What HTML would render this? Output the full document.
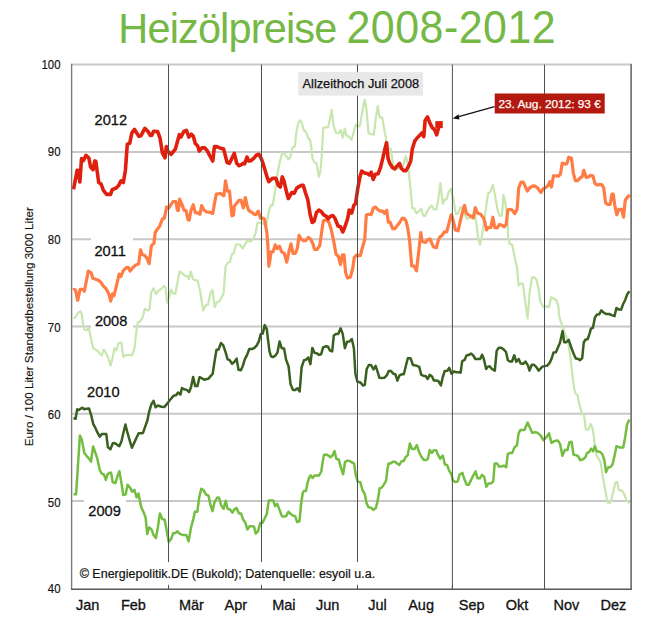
<!DOCTYPE html>
<html><head><meta charset="utf-8"><style>
html,body{margin:0;padding:0;background:#fff;}
body{width:650px;height:628px;overflow:hidden;position:relative;font-family:"Liberation Sans",sans-serif;}
svg{position:absolute;left:0;top:0;}
</style></head><body>
<svg width="650" height="628" viewBox="0 0 650 628" font-family="Liberation Sans, sans-serif">
<text transform="translate(118.3,43.1) scale(1,1.046)" font-size="41.5" letter-spacing="-0.85" fill="#75B845">Heizölpreise</text><text transform="translate(346.5,42.7) scale(1,1.077)" font-size="43" letter-spacing="0.45" fill="#75B845">2008-2012</text>
<g stroke="#c8c8c8" stroke-width="2"><line x1="71.5" y1="64.6" x2="630.5" y2="64.6" /><line x1="71.5" y1="151.9" x2="630.5" y2="151.9" /><line x1="71.5" y1="239.2" x2="630.5" y2="239.2" /><line x1="71.5" y1="326.5" x2="630.5" y2="326.5" /><line x1="71.5" y1="413.8" x2="630.5" y2="413.8" /><line x1="71.5" y1="501.1" x2="630.5" y2="501.1" /></g>
<g fill="none" stroke-linejoin="round" stroke-linecap="butt">
<polyline points="73.5,318.6 75.6,317.0 78.0,313.0 80.4,311.4 81.9,314.6 83.5,327.3 84.6,329.7 86.7,330.2 88.8,328.1 90.7,336.9 93.1,348.0 95.5,349.6 97.9,351.2 100.3,354.4 101.8,355.2 103.8,349.6 105.8,352.8 108.2,357.6 110.6,365.5 112.2,359.2 114.6,348.0 116.2,350.4 118.6,343.2 121.3,342.5 123.3,356.8 125.7,355.2 128.1,355.2 132.1,355.2 134.5,348.0 136.1,333.7 137.7,322.5 140.1,321.3 142.5,317.8 144.8,309.0 148.0,310.6 149.6,309.0 151.2,292.3 153.6,288.3 156.0,294.2 158.4,290.7 161.1,289.1 163.9,285.9 165.5,287.5 167.1,302.6 169.5,295.5 171.1,289.5 173.0,293.4 175.4,293.8 176.9,285.5 179.6,271.5 182.5,273.5 184.9,275.9 187.3,275.9 188.9,279.1 190.8,271.5 192.9,279.1 195.3,280.4 197.6,280.7 200.0,290.3 203.2,310.6 205.6,305.4 208.0,304.6 210.4,293.4 212.5,289.9 214.7,307.0 216.8,302.2 219.1,301.7 221.5,297.4 223.6,293.4 225.5,266.8 227.9,262.5 230.0,262.0 231.9,254.0 233.8,253.2 235.9,244.5 239.8,244.5 242.7,248.5 244.6,245.3 247.0,240.8 251.0,241.3 253.4,238.9 255.8,232.5 257.4,223.0 258.9,222.7 260.5,222.7 266.4,224.4 268.8,211.7 270.8,205.3 272.7,205.3 275.2,190.0 277.1,176.0 279.5,163.2 282.2,152.9 284.3,153.7 286.7,156.9 288.6,159.3 290.6,156.1 292.7,147.3 294.9,146.5 296.2,133.0 297.8,125.0 299.7,120.3 301.8,122.6 303.9,130.6 305.8,131.7 308.2,137.8 310.2,140.2 311.3,147.3 312.5,158.5 314.5,162.5 316.6,163.2 318.8,176.8 320.4,171.2 321.7,156.9 323.3,127.9 325.7,127.4 328.1,126.9 330.0,118.7 331.7,109.9 333.6,125.8 336.0,133.0 338.4,133.3 340.8,129.8 342.7,137.8 344.8,128.5 346.4,135.4 348.8,136.5 351.6,139.7 353.5,133.0 355.9,124.7 356.6,126.1 359.8,126.1 362.2,112.5 364.6,99.8 366.5,109.3 368.5,133.2 370.9,134.0 373.8,134.8 375.7,118.9 377.8,106.1 379.7,117.3 382.1,117.3 383.7,126.1 386.1,139.6 388.4,147.5 390.8,149.1 393.2,165.1 394.8,167.7 397.2,168.7 400.1,168.2 402.9,166.8 405.8,156.3 407.7,162.9 408.7,170.6 409.6,180.2 410.6,189.7 412.2,207.9 414.1,208.3 416.5,213.4 418.9,211.1 421.3,209.0 423.3,215.8 425.2,215.8 427.6,210.3 430.0,207.1 431.6,205.5 434.0,209.5 436.4,209.5 438.8,195.9 440.4,183.2 442.8,203.9 444.4,199.9 446.7,199.1 448.3,192.7 450.7,188.8 453.4,198.9 455.8,214.0 457.8,213.6 460.5,207.2 462.9,208.5 464.8,214.8 466.9,218.8 469.3,218.0 472.5,216.4 474.9,213.2 476.5,224.4 478.1,237.9 479.9,244.7 481.9,235.9 485.2,213.2 488.1,193.3 490.0,192.5 492.9,184.9 494.8,194.1 497.6,210.1 499.5,215.6 501.9,215.6 503.5,194.9 505.1,201.3 507.2,216.4 508.2,237.5 509.8,243.9 512.2,244.7 514.6,256.6 517.0,267.8 518.6,285.3 520.6,283.7 522.9,283.7 524.9,299.6 527.6,318.7 529.7,291.7 532.1,277.3 534.5,277.3 536.6,280.2 538.8,290.1 540.4,302.0 543.2,306.8 546.4,306.3 548.8,307.3 551.2,297.2 553.6,298.8 556.0,299.6 558.4,306.0 559.1,315.9 560.7,321.5 563.1,327.9 564.7,333.4 566.3,337.4 567.9,339.8 569.5,351.0 571.1,363.7 572.6,376.4 574.2,389.2 575.8,393.9 577.9,395.5 578.3,400.0 580.8,409.6 582.1,414.3 584.0,414.9 585.9,429.6 588.4,429.6 590.7,423.9 592.6,428.7 594.1,438.2 594.9,446.8 596.4,455.4 598.3,458.3 600.6,462.1 602.5,474.5 604.5,486.0 606.9,499.4 608.3,503.2 610.8,502.2 613.2,491.7 615.5,482.5 617.1,481.8 619.0,490.2 622.2,490.8 624.1,494.0 626.6,500.3 629.3,503.2" stroke="#C8E6AF" stroke-width="2.2"/>
<polyline points="73.5,494.3 76.1,494.3 78.0,464.8 79.9,435.4 81.9,440.1 84.3,452.9 86.7,456.1 88.8,458.4 91.0,461.6 93.1,446.5 95.2,452.1 97.4,459.2 99.9,470.4 101.8,473.6 103.8,474.4 105.8,479.9 107.4,474.4 109.5,472.8 111.1,472.8 112.7,482.3 115.4,483.1 117.5,476.0 119.4,471.2 121.3,482.3 123.3,495.1 125.7,494.3 127.6,484.7 130.2,487.9 132.1,491.6 134.5,490.0 136.6,497.5 138.5,493.5 139.7,499.8 141.3,507.5 143.6,512.3 145.6,517.4 147.2,534.1 149.2,527.5 151.5,529.4 153.5,534.9 155.9,538.1 157.8,527.8 159.9,513.4 162.3,519.0 164.7,519.8 166.8,531.0 168.7,542.1 171.1,538.9 173.1,533.3 175.4,532.9 177.4,531.3 179.8,533.8 182.7,534.9 186.2,534.9 188.6,541.3 191.0,527.8 193.3,519.0 194.9,511.8 197.3,511.8 199.2,497.5 201.3,488.8 203.7,490.4 206.1,494.6 208.5,495.6 210.4,504.7 212.5,511.1 214.5,502.3 217.2,497.5 219.1,497.8 221.2,505.5 223.6,508.7 225.7,500.7 227.6,508.7 230.0,509.5 232.4,512.6 234.3,509.5 236.3,507.9 239.0,513.4 241.1,513.6 243.0,519.3 245.4,522.8 247.4,529.5 249.6,526.3 252.2,526.3 254.1,526.8 255.7,533.6 258.1,531.1 260.2,523.1 262.4,522.8 264.5,518.8 266.8,514.0 268.8,500.5 271.3,500.5 273.2,500.5 275.1,506.1 277.2,503.7 279.6,510.1 282.0,516.4 284.4,516.4 286.3,516.1 288.3,511.7 290.7,514.0 293.1,515.6 295.2,516.1 297.1,522.0 299.5,521.2 301.1,503.7 302.7,493.3 303.8,491.0 305.9,491.0 307.5,483.0 309.0,478.2 310.6,475.4 312.7,477.9 314.6,475.4 317.0,475.4 319.1,475.4 321.3,471.5 322.6,462.3 323.9,455.1 326.6,454.6 328.9,455.9 330.5,457.2 332.5,455.6 334.5,451.1 336.4,459.0 338.8,459.5 340.8,467.4 343.1,474.3 345.1,461.8 347.5,460.6 349.9,461.1 352.3,462.6 354.2,463.8 355.8,475.4 357.9,481.8 360.3,482.2 362.6,490.5 364.7,493.7 366.6,503.2 368.5,507.2 371.1,507.7 373.3,509.9 375.9,508.0 377.8,500.1 379.7,488.1 381.8,487.6 384.1,484.1 386.1,480.6 387.6,468.2 388.6,463.4 390.5,463.4 392.9,461.8 395.0,461.8 397.2,463.4 399.3,465.0 401.3,461.5 403.6,461.1 405.6,457.1 407.7,455.2 409.9,443.5 412.0,449.1 414.4,449.1 416.8,445.1 419.2,452.3 421.6,457.1 423.9,459.9 426.3,459.9 427.9,458.7 429.7,449.9 431.7,452.9 433.8,450.2 436.1,450.2 438.1,454.9 440.1,458.6 442.8,455.7 444.9,464.5 447.3,465.3 449.2,470.9 451.3,474.0 452.9,480.4 455.3,482.0 457.6,481.5 459.7,474.5 462.4,472.9 464.5,479.6 466.7,484.7 468.8,484.7 471.2,479.6 473.6,474.8 475.6,471.3 477.5,478.3 479.9,478.3 482.0,474.8 484.2,476.8 486.3,486.8 488.4,483.6 490.6,483.6 493.2,481.5 494.7,463.4 497.0,463.4 499.0,466.6 501.4,466.6 503.8,465.6 506.2,467.2 507.8,453.8 510.2,452.9 512.3,452.9 513.9,448.6 515.4,446.5 517.0,445.4 518.6,433.4 520.5,429.9 524.5,429.9 527.6,422.5 529.9,427.7 532.4,432.9 535.3,432.1 537.6,432.9 540.6,435.4 543.3,440.1 546.4,437.3 549.0,433.4 551.5,443.0 554.4,441.1 557.8,440.5 560.1,443.9 562.4,455.8 564.9,450.1 567.4,450.1 569.3,442.4 571.6,441.7 573.5,454.5 576.4,455.4 578.3,456.4 580.2,460.2 583.1,459.2 585.4,457.3 586.9,453.1 589.2,452.0 591.1,448.7 593.0,451.2 594.9,446.2 596.8,451.2 600.3,452.0 602.5,454.5 604.5,460.8 606.0,472.2 608.3,467.3 610.8,466.9 612.7,464.0 614.6,455.4 616.5,446.2 619.4,447.4 623.2,447.4 625.1,437.8 627.0,424.8 629.3,419.5" stroke="#73BE41" stroke-width="2.5"/>
<polyline points="73.5,418.0 75.6,418.8 77.2,409.3 78.8,410.1 80.4,408.8 82.4,407.7 84.3,409.3 86.7,408.8 89.1,408.5 91.5,416.4 93.1,423.6 95.2,427.6 97.4,432.4 99.7,436.6 101.8,434.1 104.2,434.1 106.3,434.1 107.9,447.3 110.4,449.2 112.8,443.2 114.7,443.0 117.2,444.8 119.4,446.1 121.5,441.2 123.3,433.2 125.4,424.5 127.6,433.2 130.1,441.8 131.9,447.7 134.4,442.4 136.6,437.5 138.7,433.2 141.2,433.2 143.0,432.9 144.8,427.6 147.3,420.8 149.2,411.6 151.4,404.2 153.5,400.9 155.6,407.3 157.8,405.5 161.5,406.7 164.5,406.9 167.0,403.9 169.5,400.5 171.9,397.7 173.8,395.6 176.1,395.2 178.0,392.5 180.4,394.7 181.9,388.0 184.3,389.3 186.7,389.9 189.1,392.0 191.0,387.2 193.1,376.9 195.2,386.1 197.4,386.1 199.5,377.2 201.8,378.2 204.2,379.7 205.8,379.3 208.2,378.8 210.6,376.1 212.7,373.7 214.6,361.0 216.5,349.8 218.6,349.5 221.0,343.0 223.3,345.4 225.7,352.7 227.6,359.4 229.7,360.2 232.1,363.8 234.5,361.8 236.6,358.6 238.5,369.7 240.9,370.2 242.9,365.7 244.8,359.4 247.2,354.6 249.3,349.0 252.0,349.0 254.4,347.9 256.8,345.4 258.9,341.1 260.8,333.9 262.7,333.6 264.7,325.1 266.8,329.1 267.9,338.7 269.5,351.4 271.1,356.5 273.3,357.0 275.4,355.4 277.4,352.7 279.6,341.5 281.7,348.2 284.1,348.5 286.0,359.4 288.6,366.5 290.5,384.0 292.9,389.9 295.3,389.9 297.6,388.3 299.7,391.5 301.6,367.3 304.0,360.2 306.1,359.7 308.3,357.5 310.4,364.1 312.3,347.9 314.7,353.0 316.8,353.3 319.1,354.9 321.1,354.3 323.1,347.4 325.5,346.3 327.9,346.6 330.0,350.6 332.2,351.4 333.8,335.5 335.9,333.9 338.2,333.9 340.6,328.3 342.7,333.9 344.9,348.2 347.0,341.8 349.4,341.5 351.8,339.0 353.9,348.2 355.4,373.7 357.4,381.7 360.5,382.5 362.9,385.6 364.8,384.9 366.7,369.0 368.8,365.0 371.1,365.0 373.5,369.5 375.6,365.8 377.5,371.4 379.4,377.8 382.0,378.1 384.2,377.8 386.8,375.4 388.7,371.1 391.1,371.1 393.4,373.8 395.4,374.3 397.4,380.6 399.5,375.4 401.7,374.3 403.8,374.3 405.9,365.8 407.8,358.3 410.6,358.3 412.9,365.0 415.7,365.4 419.2,366.9 421.3,374.9 423.7,375.9 425.6,375.9 427.7,379.0 429.7,374.9 432.0,376.5 434.0,380.6 436.1,380.6 438.3,381.0 440.9,385.4 442.8,377.0 444.7,371.1 447.3,370.8 449.2,367.9 451.6,373.8 453.9,371.4 456.3,372.2 459.5,372.2 460.6,372.7 462.2,361.1 464.6,359.9 466.5,355.5 469.3,354.7 471.2,353.6 473.3,355.5 475.4,359.0 478.1,359.0 480.2,359.0 482.1,354.7 484.0,359.5 486.1,369.0 487.6,366.9 489.7,366.3 491.9,369.0 494.8,370.6 496.7,350.7 498.8,347.8 501.2,347.8 503.6,349.4 506.0,352.0 507.9,360.3 509.9,361.5 512.0,361.5 514.2,355.2 516.3,361.8 518.7,359.0 520.6,363.4 523.2,363.8 525.4,361.5 527.9,365.4 529.5,370.6 531.8,364.7 533.8,364.7 536.2,366.9 538.6,370.6 542.4,366.6 544.8,366.1 547.2,365.6 549.6,362.9 551.5,358.9 553.5,352.5 555.9,352.2 557.8,347.8 559.9,343.0 561.0,338.2 562.6,331.1 564.2,342.2 566.3,342.2 568.7,339.8 571.1,347.0 573.4,353.3 575.8,358.6 578.2,358.9 580.1,360.2 582.2,358.1 583.8,342.2 585.4,339.8 587.8,339.0 589.4,334.2 591.0,328.7 592.9,327.9 594.9,317.5 597.0,314.6 599.2,314.3 601.3,310.4 603.7,312.7 606.1,314.0 609.3,314.0 611.7,315.1 614.5,316.2 616.4,308.0 618.8,309.6 621.2,309.6 622.8,304.8 625.2,300.0 627.3,294.1 629.5,291.3" stroke="#3A6020" stroke-width="2.5"/>
<polyline points="73.5,289.9 74.0,289.3 75.5,290.2 77.7,300.3 80.1,289.3 82.8,289.3 84.3,291.2 86.5,280.2 88.3,271.0 91.1,272.8 92.9,278.3 95.6,279.2 98.4,280.2 101.1,282.5 103.0,285.7 105.7,288.4 107.5,291.2 109.4,295.7 110.7,301.2 112.5,293.9 114.0,295.7 116.7,284.7 119.1,274.1 120.9,276.5 123.1,271.0 125.9,267.9 128.2,267.3 130.1,271.0 133.2,267.3 135.6,265.1 138.7,263.7 140.5,249.9 142.3,254.5 144.7,255.4 146.9,258.2 149.1,263.7 151.5,245.4 153.9,243.5 155.2,232.5 157.0,229.8 159.7,226.1 162.5,218.8 164.3,218.4 166.7,206.9 168.9,207.8 173.0,201.5 175.8,201.5 177.4,210.3 178.5,210.3 179.6,199.1 181.7,203.9 184.1,210.3 186.0,210.6 188.1,219.8 189.2,220.1 190.8,211.1 193.2,204.7 195.3,212.6 197.6,213.0 200.0,214.2 201.6,205.5 204.0,209.9 206.4,211.8 209.6,212.2 212.8,213.4 214.4,203.9 216.3,194.0 220.7,193.5 223.9,195.9 225.5,180.8 227.4,191.1 229.5,191.1 231.9,215.8 233.5,215.0 234.3,206.3 236.7,203.1 239.0,200.4 241.1,200.4 243.3,207.9 245.4,197.5 247.0,205.5 248.6,210.3 251.0,211.8 254.2,214.2 255.8,214.7 258.2,211.1 260.5,218.2 262.9,218.2 264.4,219.1 266.8,231.8 267.9,246.2 268.8,266.1 269.9,260.5 271.1,251.8 273.1,251.8 275.2,244.9 277.1,248.6 279.5,246.2 281.6,251.8 284.3,253.3 286.7,262.1 289.1,251.0 291.0,243.8 293.0,253.3 295.4,253.3 297.5,247.8 299.1,235.4 301.0,239.0 303.4,240.6 305.8,240.6 308.2,237.4 310.5,239.0 312.9,243.8 314.5,249.4 317.2,249.4 319.8,245.4 321.7,231.8 323.3,220.7 326.2,219.9 328.9,222.3 331.2,229.5 333.6,240.6 336.0,254.1 338.4,256.5 340.5,264.5 342.4,254.9 344.0,254.9 345.6,272.5 347.5,278.0 350.4,277.2 352.7,268.5 354.3,257.3 356.7,254.9 358.4,255.6 360.3,255.6 362.4,247.7 364.7,239.7 366.3,215.0 368.7,214.2 371.1,214.7 373.5,207.9 375.6,207.1 377.8,209.5 380.3,211.1 382.6,211.1 384.6,213.4 386.7,210.3 388.3,222.2 390.2,222.2 392.6,228.6 395.0,228.6 397.4,225.4 399.8,222.2 402.2,218.2 404.2,218.5 406.1,221.4 407.7,227.8 409.6,240.5 411.7,266.0 414.1,266.0 416.5,270.8 418.9,250.1 420.8,232.5 422.1,241.3 424.0,242.1 425.6,242.4 427.6,239.7 430.0,238.9 431.6,242.9 433.5,246.9 436.4,247.7 438.0,241.3 439.6,237.3 442.0,235.4 444.4,231.8 446.7,231.8 449.1,223.0 451.0,215.0 451.5,214.8 453.4,221.2 455.3,230.0 458.1,230.8 460.5,220.4 462.6,211.7 464.5,205.3 466.4,213.2 468.5,214.8 470.9,216.1 473.3,218.0 475.3,207.7 477.6,213.2 480.4,214.0 483.6,218.0 485.2,223.6 486.5,230.0 488.1,227.6 490.8,227.3 492.9,217.2 494.8,227.6 497.2,227.9 499.5,224.4 501.9,225.2 504.3,226.8 506.2,224.4 507.8,210.1 509.9,209.3 512.3,210.1 514.7,213.6 517.1,209.3 518.7,187.8 521.0,182.2 523.4,182.2 525.8,187.8 527.4,191.0 529.8,187.8 532.2,186.2 534.6,185.9 537.4,187.8 540.9,192.5 543.3,188.6 546.5,187.0 548.0,185.4 549.9,181.7 551.5,187.0 553.5,175.8 555.9,175.8 558.3,176.3 560.4,174.2 562.3,163.1 564.7,163.9 566.8,163.9 568.7,157.2 571.5,158.3 573.4,173.4 575.4,180.6 577.9,180.6 579.8,178.2 582.2,176.6 583.8,170.3 586.2,177.4 588.6,176.9 590.6,175.4 592.9,175.8 594.9,183.3 597.3,184.9 599.7,184.6 601.8,184.6 603.7,187.8 605.6,202.9 607.7,204.5 610.1,204.5 612.0,194.1 613.2,194.1 614.8,205.3 616.8,214.8 618.8,209.3 621.5,209.3 623.6,217.2 625.2,200.5 627.6,197.0 629.8,194.9" stroke="#FF7D45" stroke-width="3.2"/>
<polyline points="73.5,189.3 77.2,170.2 78.3,170.5 79.9,182.0 81.5,158.6 83.5,160.6 85.9,155.4 88.8,157.8 90.7,167.3 93.1,169.7 94.7,161.0 95.8,161.3 98.7,182.5 101.1,184.0 103.4,190.4 106.6,194.4 110.6,194.4 112.2,189.6 116.2,188.0 118.6,185.6 121.0,180.9 123.3,182.5 125.4,170.5 127.3,144.2 129.7,143.4 131.8,133.1 134.5,129.4 138.8,136.3 140.9,135.8 144.8,128.3 148.0,131.5 150.4,135.5 152.0,135.2 153.6,131.2 157.6,131.5 160.0,137.9 162.4,153.0 165.1,157.8 166.3,146.6 167.9,151.4 171.1,154.3 175.4,149.0 179.3,134.7 180.9,137.1 183.8,131.5 186.5,130.4 188.9,137.1 191.3,134.2 193.3,136.3 195.3,143.4 197.6,145.8 199.2,151.1 201.9,147.9 204.8,147.9 207.2,150.6 209.6,155.4 212.8,161.0 214.4,146.6 217.5,146.9 219.9,147.9 223.6,149.0 227.1,162.5 229.5,163.3 234.3,153.3 236.7,163.3 239.0,165.7 241.4,164.6 243.0,163.3 244.6,163.8 247.0,157.0 248.6,161.0 251.0,160.6 254.2,157.8 256.6,154.9 258.9,154.3 261.3,158.6 263.2,163.9 267.2,177.4 268.8,181.7 272.7,178.2 275.9,178.2 278.3,185.4 280.4,187.0 282.3,176.9 283.9,180.6 286.3,191.0 288.3,198.6 291.8,192.5 294.2,193.3 296.9,187.8 301.4,185.4 303.3,185.4 305.4,192.5 307.8,199.7 310.2,214.8 312.2,222.5 314.1,221.2 316.5,212.5 318.9,210.1 321.3,211.7 323.7,214.8 326.1,216.1 328.2,218.8 330.1,216.4 332.9,215.6 334.8,218.0 338.0,226.0 340.4,226.8 342.8,232.0 345.2,226.0 347.6,218.8 349.2,210.1 351.6,213.2 353.9,205.3 355.5,203.7 357.9,187.8 360.0,176.6 361.7,171.1 364.6,173.0 367.7,173.8 369.3,174.9 371.2,172.2 373.3,179.4 375.4,174.3 378.1,173.8 380.5,167.5 382.9,157.9 384.5,150.7 386.5,142.8 388.1,158.7 390.0,163.8 392.4,167.5 394.8,169.0 397.2,165.9 399.6,163.5 401.2,168.2 403.6,170.6 406.0,170.6 408.3,166.7 410.7,161.1 412.3,149.1 414.7,141.2 417.1,138.0 420.3,134.8 421.9,132.9 423.8,136.7 425.1,120.5 427.5,117.0 429.8,122.9 432.2,127.6 434.6,129.7 436.7,134.8 438.6,127.6 439.4,125.3" stroke="#E0200F" stroke-width="3.6"/>
</g>
<rect x="435.3" y="121.1" width="7.5" height="7" fill="#E0200F"/>
<g stroke="#505050" stroke-width="1"><line x1="168.5" y1="64.6" x2="168.5" y2="589" /><line x1="261.5" y1="64.6" x2="261.5" y2="589" /><line x1="357.5" y1="64.6" x2="357.5" y2="589" /><line x1="452.4" y1="64.6" x2="452.4" y2="589" /><line x1="544.5" y1="64.6" x2="544.5" y2="589" /></g>
<g fill="#fff">
<rect x="91" y="236" width="42" height="24"/>
<rect x="91" y="314" width="42" height="16"/>
<rect x="84" y="498" width="42" height="20"/>
<rect x="72.5" y="562" width="310" height="23"/>
</g>
<g fill="none">
<line x1="71.6" y1="63.8" x2="71.6" y2="590" stroke="#7c7c7c" stroke-width="1.4"/>
<line x1="631.1" y1="63.8" x2="631.1" y2="590" stroke="#5e5e5e" stroke-width="1.5"/>
<line x1="71" y1="589.3" x2="631.8" y2="589.3" stroke="#585858" stroke-width="1.5"/>
</g>
<g stroke="#505050" stroke-width="1"><line x1="168.5" y1="584.8" x2="168.5" y2="589" /><line x1="261.5" y1="584.8" x2="261.5" y2="589" /><line x1="357.5" y1="584.8" x2="357.5" y2="589" /><line x1="452.4" y1="584.8" x2="452.4" y2="589" /><line x1="544.5" y1="584.8" x2="544.5" y2="589" /></g>
<g font-size="11.4" fill="#111" stroke="#111" stroke-width="0.15"><text transform="translate(60.5,68.8) scale(1,1.08)" text-anchor="end">100</text><text transform="translate(60.5,155.9) scale(1,1.08)" text-anchor="end">90</text><text transform="translate(60.5,243.7) scale(1,1.08)" text-anchor="end">80</text><text transform="translate(60.5,331.6) scale(1,1.08)" text-anchor="end">70</text><text transform="translate(60.5,418.7) scale(1,1.08)" text-anchor="end">60</text><text transform="translate(60.5,506.6) scale(1,1.08)" text-anchor="end">50</text><text transform="translate(60.5,593.4) scale(1,1.08)" text-anchor="end">40</text></g>
<g font-size="14.5" fill="#111" stroke="#111" stroke-width="0.3"><text x="75.9" y="609.7">Jan</text><text x="120.9" y="609.7">Feb</text><text x="178.89999999999998" y="609.7">Mär</text><text x="224.5" y="609.7">Apr</text><text x="272.2" y="609.7">Mai</text><text x="315.9" y="609.7">Jun</text><text x="368.3" y="609.7">Jul</text><text x="408.2" y="609.7">Aug</text><text x="458.8" y="609.7">Sep</text><text x="505.7" y="609.7">Okt</text><text x="553.5" y="609.7">Nov</text><text x="600.5" y="609.7">Dez</text></g>
<g font-size="14.6" fill="#111" stroke="#111" stroke-width="0.3">
<text x="94.6" y="125.3">2012</text>
<text x="94.4" y="256.4">2011</text>
<text x="94.9" y="326.4">2008</text>
<text x="87.1" y="397.2">2010</text>
<text x="88.3" y="515.6">2009</text>
</g>
<text x="79.7" y="578" font-size="12.5" fill="#111" stroke="#111" stroke-width="0.2">© Energiepolitik.DE (Bukold); Datenquelle: esyoil u.a.</text>
<rect x="298.2" y="72.1" width="124.7" height="23.5" fill="#e8e8e8"/>
<text x="302.5" y="88" font-size="12.8" fill="#111" stroke="#111" stroke-width="0.25">Allzeithoch Juli 2008</text>
<rect x="494.7" y="93.5" width="110" height="20" fill="#B3190F"/>
<text x="498.4" y="108" font-size="11.8" fill="#fff" stroke="#fff" stroke-width="0.25">23. Aug. 2012: 93 €</text>
<line x1="494.5" y1="106.6" x2="456" y2="117.4" stroke="#111" stroke-width="1.1"/>
<polygon points="452.7,118.5 458.5,114.2 459.5,119.6" fill="#111"/>
<text transform="translate(33.2,446.3) rotate(-90)" font-size="11.7" fill="#111" stroke="#111" stroke-width="0.15">Euro / 100 Liter Standardbestellung 3000 Liter</text>
</svg>
</body></html>
